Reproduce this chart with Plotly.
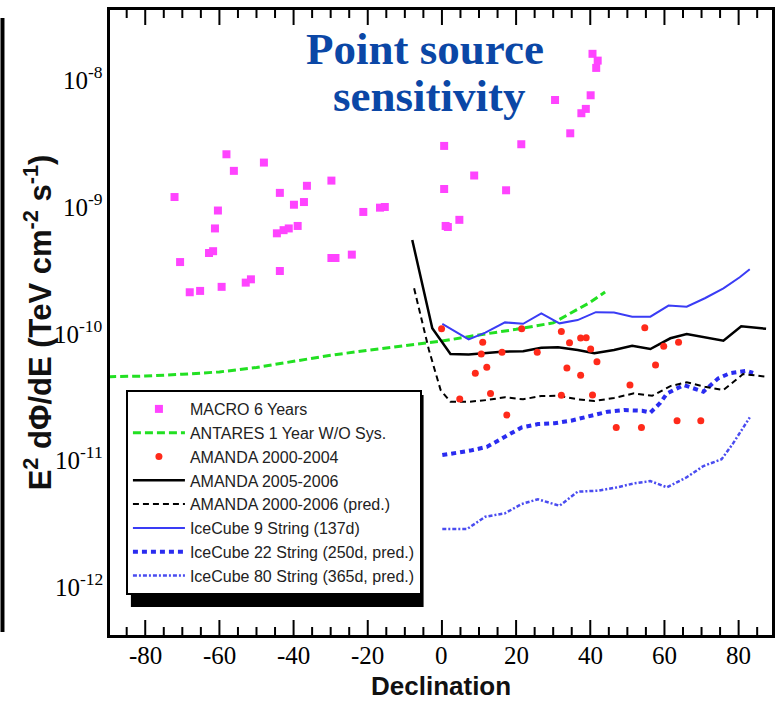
import math
import plotly.graph_objects as go

# ---------------- data ----------------
macro_dec = [-58.1, -48.0, -56.1, -36.4, -29.8, -72.1, -43.7, -39.9, -37.2, -60.4,
             -21.2, -16.7, -15.4, -61.2, -44.5, -42.7, -41.3, -38.9, -62.8, -61.7,
             -70.6, -29.8, -28.7, -24.3, -43.7, -52.9, -51.5, -59.4, -68.0, -65.2,
             40.6, 42.0, 41.6, 40.1, 30.5, 38.8, 37.6, 34.6, 21.4, 0.6,
             8.7, 0.6, 17.3, 4.7, 1.0, 1.6]
macro_flux = [2.50e-9, 2.15e-9, 1.85e-9, 1.41e-9, 1.55e-9, 1.15e-9, 1.24e-9, 1.00e-9, 1.05e-9, 9.0e-10,
              8.77e-10, 9.48e-10, 9.6e-10, 6.5e-10, 5.95e-10, 6.3e-10, 6.5e-10, 6.8e-10, 4.16e-10, 4.3e-10,
              3.53e-10, 3.8e-10, 3.8e-10, 4.04e-10, 3.0e-10, 2.43e-10, 2.58e-10, 2.25e-10, 2.04e-10, 2.09e-10,
              1.55e-8, 1.37e-8, 1.2e-8, 7.3e-9, 6.7e-9, 5.7e-9, 5.27e-9, 3.66e-9, 3.0e-9, 2.91e-9,
              1.7e-9, 1.33e-9, 1.3e-9, 7.6e-10, 6.8e-10, 6.67e-10]

antares_dec = [-90, -80, -70, -60, -50, -40, -30, -20, -10, 0, 10, 20, 30, 35, 40, 44]
antares_flux = [4.4e-11, 4.45e-11, 4.6e-11, 4.8e-11, 5.2e-11, 5.8e-11, 6.5e-11, 7.1e-11,
                7.7e-11, 8.4e-11, 9.4e-11, 1.04e-10, 1.17e-10, 1.4e-10, 1.7e-10, 2.05e-10]

am0004_dec = [-0.1, 11.0, 10.6, 9.0, 12.1, 4.8, 13.1, 16.2, 21.5, 25.7,
              32.2, 34.4, 37.4, 38.9, 40.1, 41.8, 33.7, 37.4, 32.2, 40.6,
              50.7, 54.7, 59.8, 63.8, 57.6, 17.5, 47.0, 53.8, 63.4, 69.8]
am0004_flux = [1.05e-10, 8.22e-11, 6.64e-11, 4.68e-11, 5.22e-11, 2.93e-11, 3.25e-11, 6.85e-11, 1.05e-10, 6.85e-11,
               1.0e-10, 8.17e-11, 8.89e-11, 8.93e-11, 7.28e-11, 5.78e-11, 5.15e-11, 4.51e-11, 3.14e-11, 3.15e-11,
               3.78e-11, 1.07e-10, 7.64e-11, 8.22e-11, 5.45e-11, 2.19e-11, 1.75e-11, 1.75e-11, 1.98e-11, 1.98e-11]

am0506_dec = [-8.0, -2.6, 2.3, 7.2, 16.1, 21.9, 26.8, 31.3, 36.6, 41.1,
              46.4, 51.3, 56.2, 61.6, 66.0, 70.9, 75.9, 80.7, 83.0, 87.4]
am0506_flux = [5.27e-10, 1.06e-10, 6.64e-11, 6.6e-11, 6.92e-11, 7.0e-11, 7.45e-11, 7.5e-11, 7.14e-11, 6.73e-11,
               7.14e-11, 7.73e-11, 7.28e-11, 8.84e-11, 9.55e-11, 9.0e-11, 8.46e-11, 1.1e-10, 1.08e-10, 1.05e-10]

am0006_dec = [-7.5, -3.5, -0.35, 2.3, 7.2, 12.1, 17.0, 21.9, 26.8, 31.7,
              36.6, 41.1, 46.4, 51.8, 56.7, 61.6, 66.0, 70.9, 75.9, 81.2, 87.4]
am0006_flux = [2.19e-10, 7.14e-11, 3.45e-11, 2.79e-11, 2.79e-11, 2.88e-11, 3.03e-11, 2.92e-11, 3.1e-11, 3.11e-11,
               2.92e-11, 2.83e-11, 2.99e-11, 3.25e-11, 3.11e-11, 3.71e-11, 3.98e-11, 3.67e-11, 3.45e-11, 4.62e-11, 4.4e-11]

ic9_dec = [0.1, 7.2, 11.7, 17.0, 21.9, 26.8, 31.7, 36.6, 41.5, 46.4,
           51.3, 56.2, 61.1, 66.0, 70.9, 75.9, 80.3, 83.0]
ic9_flux = [1.15e-10, 8.67e-11, 9.8e-11, 1.18e-10, 1.15e-10, 1.39e-10, 1.16e-10, 1.23e-10, 1.42e-10, 1.41e-10,
            1.31e-10, 1.31e-10, 1.6e-10, 1.57e-10, 1.83e-10, 2.19e-10, 2.68e-10, 3.1e-10]

ic22_dec = [0.1, 2.8, 7.7, 12.1, 17.0, 21.5, 25.9, 30.4, 34.8, 39.8, 44.7,
            49.1, 54.0, 56.2, 58.9, 60.7, 65.2, 70.5, 74.5, 77.6, 82.1, 83.9]
ic22_flux = [1.06e-11, 1.09e-11, 1.15e-11, 1.23e-11, 1.48e-11, 1.75e-11, 1.86e-11, 1.89e-11, 1.98e-11, 2.13e-11, 2.33e-11,
             2.4e-11, 2.37e-11, 2.29e-11, 2.74e-11, 3.25e-11, 3.78e-11, 3.35e-11, 4.27e-11, 4.68e-11, 4.9e-11, 4.71e-11]

ic80_dec = [0.1, 6.8, 11.7, 17.0, 21.5, 25.9, 31.7, 36.6, 42.0, 47.3,
            51.8, 56.2, 60.7, 66.0, 70.5, 75.4, 78.5, 83.0]
ic80_flux = [2.77e-12, 2.77e-12, 3.46e-12, 3.68e-12, 4.36e-12, 4.75e-12, 4.22e-12, 5.45e-12, 5.55e-12, 5.9e-12,
             6.34e-12, 6.61e-12, 5.9e-12, 7.08e-12, 8.69e-12, 9.82e-12, 1.31e-11, 2.1e-11]

# tick positions and labels
x_major = [-80, -60, -40, -20, 0, 20, 40, 60, 80]
x_major_text = ["-80", "-60", "-40", "-20", "0", "20", "40", "60", "80"]
x_minor = [-85, -75, -70, -65, -55, -50, -45, -35, -30, -25, -15, -10, -5,
           5, 10, 15, 25, 30, 35, 45, 50, 55, 65, 70, 75, 85]
y_major = [1e-12, 1e-11, 1e-10, 1e-9, 1e-8]
y_major_text = ["10<sup>-12</sup>", "10<sup>-11</sup>", "10<sup>-10</sup>", "10<sup>-9</sup>", "10<sup>-8</sup>"]
y_minor_mult = [2, 3, 4, 5, 6, 7, 8, 9]
y_decades = [1e-13, 1e-12, 1e-11, 1e-10, 1e-9, 1e-8]

names = ["MACRO 6 Years", "ANTARES 1 Year W/O Sys.", "AMANDA 2000-2004", "AMANDA 2005-2006",
         "AMANDA 2000-2006 (pred.)", "IceCube 9 String (137d)", "IceCube 22 String (250d, pred.)",
         "IceCube 80 String (365d, pred.)"]

# ---------------- figure ----------------
fig = go.Figure()

fig.add_trace(go.Scatter(x=ic80_dec, y=ic80_flux, mode="lines", name=names[7], legendrank=8,
                         legendgroup="g8",
                         line=dict(color="#4a4cf0", width=2.5, dash="4px,2px,2px,2px")))
fig.add_trace(go.Scatter(x=ic22_dec, y=ic22_flux, mode="lines", name=names[6], legendrank=7,
                         legendgroup="g7",
                         line=dict(color="#2a2cf0", width=4, dash="5px,4px")))
fig.add_trace(go.Scatter(x=antares_dec, y=antares_flux, mode="lines", name=names[1], legendrank=2,
                         legendgroup="g2",
                         line=dict(color="#22e022", width=3, dash="8px,4px")))
fig.add_trace(go.Scatter(x=am0006_dec, y=am0006_flux, mode="lines", name=names[4], legendrank=5,
                         legendgroup="g5",
                         line=dict(color="black", width=2, dash="6px,4px")))
fig.add_trace(go.Scatter(x=am0506_dec, y=am0506_flux, mode="lines", name=names[3], legendrank=4,
                         legendgroup="g4",
                         line=dict(color="black", width=2.5)))
fig.add_trace(go.Scatter(x=ic9_dec, y=ic9_flux, mode="lines", name=names[5], legendrank=6,
                         legendgroup="g6",
                         line=dict(color="#3a3cf5", width=2)))
fig.add_trace(go.Scatter(x=macro_dec, y=macro_flux, mode="markers", name=names[0], legendrank=1,
                         legendgroup="g1",
                         marker=dict(symbol="square", size=8, color="#ff44ff", line=dict(width=0))))
fig.add_trace(go.Scatter(x=am0004_dec, y=am0004_flux, mode="markers", name=names[2], legendrank=3,
                         legendgroup="g3",
                         marker=dict(symbol="circle", size=7, color="#ff2a1a", line=dict(width=0))))

L, R, T, B = 110, 5, 10, 66
PW = 780 - L - R
PH = 701 - T - B
Y_RANGE = [-12.394, -7.464]

fig.update_layout(
    width=780, height=701,
    margin=dict(l=L, r=R, t=T, b=B),
    plot_bgcolor="white",
    showlegend=True,
    legend=dict(x=(126 - L) / PW, y=(635 - 390) / PH, xanchor="left", yanchor="top",
                bgcolor="white", bordercolor="black", borderwidth=2,
                font=dict(family="Liberation Sans", size=16, color="#222"),
                tracegroupgap=10, traceorder="normal", itemwidth=52),
)

fig.update_xaxes(range=[-89.5, 89], showticklabels=False, ticks="", showgrid=False,
                 zeroline=False, showline=True, linecolor="black", linewidth=3, mirror=True)
fig.update_yaxes(type="log", range=Y_RANGE, showticklabels=False, ticks="", showgrid=False,
                 zeroline=False, showline=True, linecolor="black", linewidth=3, mirror=True)

tick_line = dict(color="black", width=2)
MAJ, MIN = 15, 8

# x ticks (bottom and top), positioned on the x axis scale
for v, ln in [(v, MAJ) for v in x_major] + [(v, MIN) for v in x_minor]:
    fig.add_shape(type="line", xref="x", yref="paper", x0=v, x1=v, y0=0, y1=ln / PH,
                  line=tick_line, layer="above")
    fig.add_shape(type="line", xref="x", yref="paper", x0=v, x1=v, y0=1, y1=1 - ln / PH,
                  line=tick_line, layer="above")

# y ticks (left and right), positioned on the log y axis scale
y_minor = [m * d for d in y_decades for m in y_minor_mult]
for v, ln in [(v, MAJ) for v in y_major] + [(v, MIN) for v in y_minor]:
    lv = math.log10(v)
    if not (Y_RANGE[0] <= lv <= Y_RANGE[1]):
        continue
    fig.add_shape(type="line", xref="paper", yref="y", x0=0, x1=ln / PW, y0=lv, y1=lv,
                  line=tick_line, layer="above")
    fig.add_shape(type="line", xref="paper", yref="y", x0=1, x1=1 - ln / PW, y0=lv, y1=lv,
                  line=tick_line, layer="above")

# tick labels
for v, t in zip(x_major, x_major_text):
    fig.add_annotation(text=t, xref="x", yref="paper", x=v, y=-20 / PH,
                       xanchor="center", yanchor="middle", showarrow=False,
                       font=dict(family="Liberation Serif", size=25, color="black"))
for v, t in zip(y_major, y_major_text):
    fig.add_annotation(text=t, xref="paper", yref="y", x=-5 / PW, y=math.log10(v),
                       xanchor="right", yanchor="middle", showarrow=False,
                       font=dict(family="Liberation Serif", size=25, color="black"))

# title text
fig.add_annotation(text="<b>Point source</b>", xref="paper", yref="paper",
                   x=(426 - L) / PW, y=(635 - 49) / PH, xanchor="center", yanchor="middle",
                   showarrow=False,
                   font=dict(family="Liberation Serif", size=45, color="#0b47a6"))
fig.add_annotation(text="<b>sensitivity</b>", xref="paper", yref="paper",
                   x=(431 - L) / PW, y=(635 - 96) / PH, xanchor="center", yanchor="middle",
                   showarrow=False,
                   font=dict(family="Liberation Serif", size=45, color="#0b47a6"))

# axis titles
fig.add_annotation(text="<b>E<sup>2</sup> dΦ/dE (TeV cm<sup>-2</sup> s<sup>-1</sup>)</b>",
                   xref="paper", yref="paper", x=(38 - L) / PW, y=(635 - 322) / PH,
                   xanchor="center", yanchor="middle", textangle=-90, showarrow=False,
                   font=dict(family="Liberation Sans", size=31, color="#111"))
fig.add_annotation(text="<b>Declination</b>", xref="paper", yref="paper",
                   x=(443 - L) / PW, y=(635 - 686) / PH, xanchor="center", yanchor="middle",
                   showarrow=False,
                   font=dict(family="Liberation Sans", size=26, color="#111"))

# legend drop shadow
fig.add_shape(type="rect", xref="paper", yref="paper", layer="above",
              x0=(131 - L) / PW, x1=(425 - L) / PW, y0=(635 - 607) / PH, y1=(635 - 395) / PH,
              fillcolor="black", line=dict(width=0))

# left edge bar (slide artefact)
fig.add_shape(type="rect", xref="paper", yref="paper",
              x0=(0 - L) / PW, x1=(4 - L) / PW, y0=(635 - 632) / PH, y1=(635 - 18) / PH,
              fillcolor="black", line=dict(width=0))

fig.write_html("out.html", config={"responsive": False, "staticPlot": True})
